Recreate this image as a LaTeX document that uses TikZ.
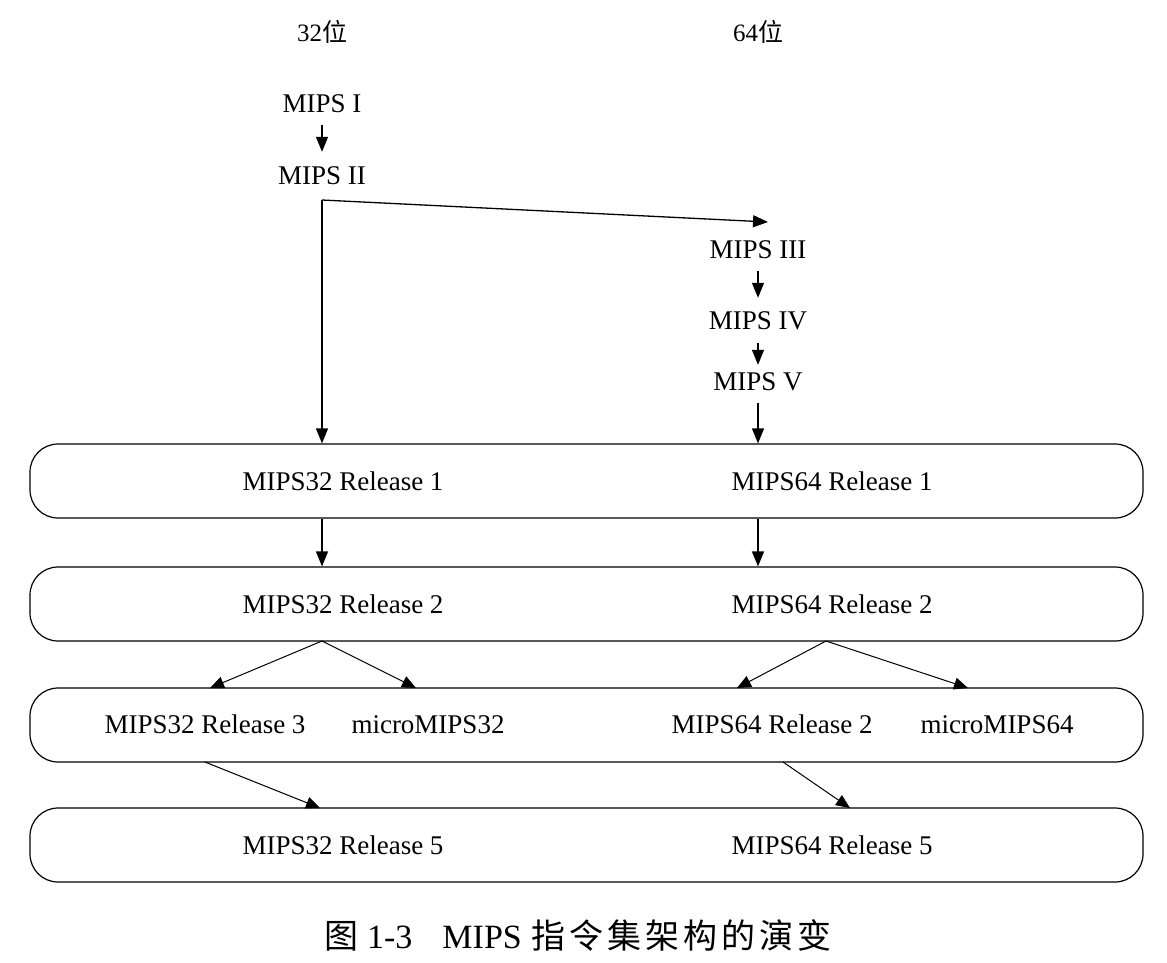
\documentclass[tikz,border=0pt]{standalone}
\usepackage{fontspec}
\setmainfont{Liberation Serif}
\newfontfamily\cjk{Noto Sans CJK SC}
\usetikzlibrary{arrows.meta,calc}
\newcommand{\cs}{\hspace{4pt}}
\begin{document}
\begin{tikzpicture}[x=1pt,y=-1pt,
  lbl/.style={font=\fontsize{27}{31}\selectfont, inner sep=5pt, text height=18pt, text depth=0pt},
  head/.style={font=\fontsize{25}{29}\selectfont, inner sep=5pt},
  band/.style={draw, line width=1.2pt, rounded corners=28pt, minimum width=1113pt, minimum height=74pt, inner sep=0pt},
  arr/.style={line width=1.3pt, -{Triangle[length=15pt,width=12pt]}},
  thinarr/.style={line width=1pt, -{Triangle[length=14pt,width=12pt]}}
]
\useasboundingbox (0,0) rectangle (1167,962);
\fill[white] (0,0) rectangle (1167,962);

% headings
\node[head] (h32) at (322,32) {32{\cjk 位}};
\node[head] (h64) at (758,32) {64{\cjk 位}};

% early ISAs
\node[lbl] (m1) at (322,103) {MIPS I};
\node[lbl] (m2) at (322,175) {MIPS II};
\node[lbl] (m3) at (758,249) {MIPS III};
\node[lbl] (m4) at (758,320) {MIPS IV};
\node[lbl] (m5) at (758,381) {MIPS V};

% bands
\node[band] (b1) at (586.5,481) {};
\node[band] (b2) at (586.5,604) {};
\node[band] (b3) at (586.5,725) {};
\node[band] (b4) at (586.5,845) {};

% band contents
\node[lbl] (r32a) at (343,481) {MIPS32 Release 1};
\node[lbl] (r64a) at (832,481) {MIPS64 Release 1};
\node[lbl] (r32b) at (343,604) {MIPS32 Release 2};
\node[lbl] (r64b) at (832,604) {MIPS64 Release 2};
\node[lbl] (r32c) at (205,724) {MIPS32 Release 3};
\node[lbl] (u32)  at (428,724) {microMIPS32};
\node[lbl] (r64c) at (772,724) {MIPS64 Release 2};
\node[lbl] (u64)  at (997,724) {microMIPS64};
\node[lbl] (r32e) at (343,845) {MIPS32 Release 5};
\node[lbl] (r64e) at (832,845) {MIPS64 Release 5};

% caption
\node[font=\fontsize{34}{40}\selectfont, inner sep=0pt] (cap) at (578,935)
  {{\cjk 图}\hspace{9pt}1-3\hspace{30pt}MIPS\hspace{10pt}{\cjk 指\cs 令\cs 集\cs 架\cs 构\cs 的\cs 演\cs 变}};

% junction points
\coordinate (j2) at (322,200);
\coordinate (t3) at (768,222);
\coordinate (s32) at (322,641);
\coordinate (s64) at (826,641);
\coordinate (e32a) at (210,688);
\coordinate (e32b) at (416,688);
\coordinate (e64a) at (737,688);
\coordinate (e64b) at (968,688);
\coordinate (s32c) at (205,762);
\coordinate (s64c) at (783,762);
\coordinate (e32e) at (320,808);
\coordinate (e64e) at (850,808);

% connectors
\draw[arr, shorten <=8pt, shorten >=9pt] (m1) -- (m2);
\draw[arr] (j2) -- (j2 |- b1.north);
\draw[arr] (j2) -- (t3);
\draw[arr, shorten <=8pt, shorten >=8pt] (m3) -- (m4);
\draw[arr, shorten <=9pt, shorten >=2pt] (m4) -- (m5);
\draw[arr, shorten <=8pt] (m5) -- (m5 |- b1.north);

\draw[arr] (j2 |- b1.south) -- (j2 |- b2.north);
\draw[arr] (m5 |- b1.south) -- (m5 |- b2.north);

\draw[thinarr] (s32) -- (e32a);
\draw[thinarr] (s32) -- (e32b);
\draw[thinarr] (s64) -- (e64a);
\draw[thinarr] (s64) -- (e64b);
\draw[thinarr] (s32c) -- (e32e);
\draw[thinarr] (s64c) -- (e64e);
\end{tikzpicture}
\end{document}
